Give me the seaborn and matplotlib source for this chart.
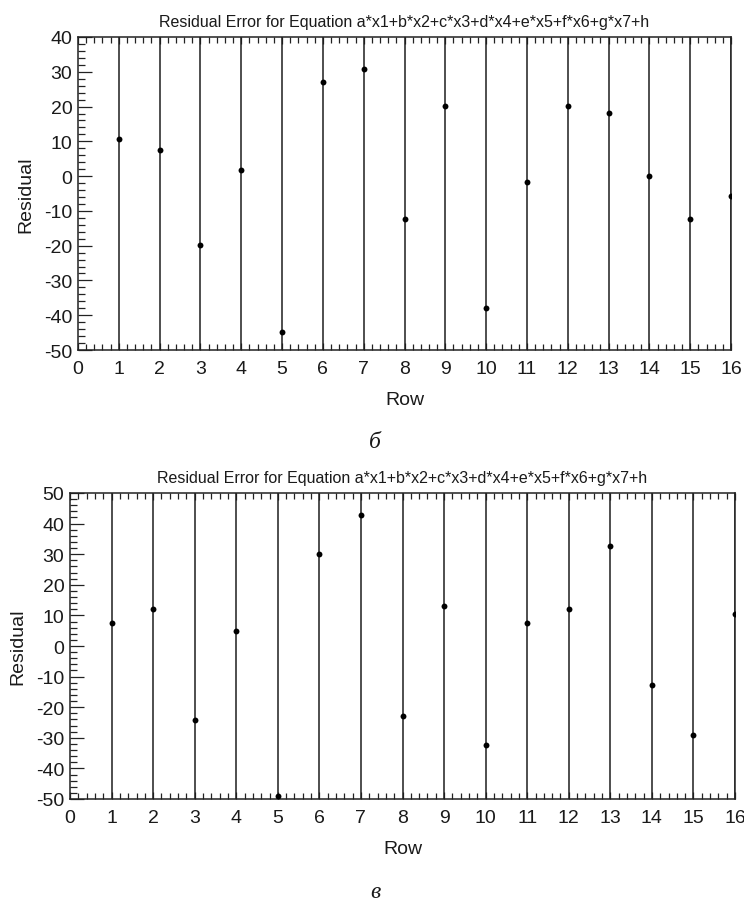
import numpy as np
import pandas as pd
import matplotlib
matplotlib.use("Agg")
import matplotlib.pyplot as plt
import seaborn as sns
from matplotlib.ticker import MultipleLocator

rows = list(range(1, 17))
resid_b = [10.7, 7.5, -19.8, 1.8, -44.9, 27.0, 30.9, -12.3, 20.3, -37.9, -1.7, 20.3, 18.1, 0.0, -12.3, -5.6]
resid_v = [7.5, 12.0, -24.2, 5.0, -48.9, 30.2, 42.8, -22.9, 13.2, -32.4, 7.5, 12.0, 32.6, -12.8, -29.0, 10.3]
title = "Residual Error for Equation a*x1+b*x2+c*x3+d*x4+e*x5+f*x6+g*x7+h"
panel_labels = ["б", "в"]
ylims = [(-50, 40), (-50, 50)]

sns.set_theme(style="white")
plt.rcParams['font.family'] = ['Liberation Sans', 'DejaVu Sans']
plt.rcParams['axes.unicode_minus'] = False
txt = '#1a1a1a'

fig = plt.figure(figsize=(7.44, 9.04), dpi=100)
positions = [
    [78/744, 1-351/904, 653/744, 313/904],
    [70/744, 1-800/904, 665/744, 306/904],
]
label_y = [1-443/904, 1-893/904]

for pos, resid, ylim, plab, ly in zip(positions, [resid_b, resid_v], ylims, panel_labels, label_y):
    ax = fig.add_axes(pos)
    df = pd.DataFrame({"Row": rows, "Residual": resid})
    ax.vlines(df["Row"], ylim[0], ylim[1], color='#1e1e1e', linewidth=1.1, zorder=1)
    sns.scatterplot(data=df, x="Row", y="Residual", ax=ax, color='black', s=18,
                    edgecolor='black', linewidth=0, zorder=3)
    ax.set_xlim(0, 16)
    ax.set_ylim(*ylim)
    ax.xaxis.set_major_locator(MultipleLocator(1))
    ax.xaxis.set_minor_locator(MultipleLocator(0.2))
    ax.yaxis.set_major_locator(MultipleLocator(10))
    ax.yaxis.set_minor_locator(MultipleLocator(2))
    ax.tick_params(axis='both', which='both', direction='in', colors='#222222',
                   labelcolor=txt, labelsize=14)
    ax.tick_params(axis='x', which='major', length=5, width=0.9, top=True, bottom=True, pad=7)
    ax.tick_params(axis='x', which='minor', length=4, width=0.9, top=True, bottom=True)
    ax.tick_params(axis='y', which='major', length=10, width=0.9, left=True, right=False, pad=4)
    ax.tick_params(axis='y', which='minor', length=5, width=0.9, left=True, right=False)
    for sp in ax.spines.values():
        sp.set_color('#222222')
        sp.set_linewidth(1.1)
    ax.set_xlabel("Row", fontsize=14, color=txt, labelpad=10)
    ax.set_ylabel("Residual", fontsize=14, color=txt, labelpad=7)
    ax.set_title(title, fontsize=11.5, color=txt, pad=8)
    fig.text(375/744, ly, plab, fontsize=17, style='italic',
             family=['Liberation Serif', 'DejaVu Serif'], ha='center', va='center', color=txt)

fig.savefig("out.png", dpi=100)
